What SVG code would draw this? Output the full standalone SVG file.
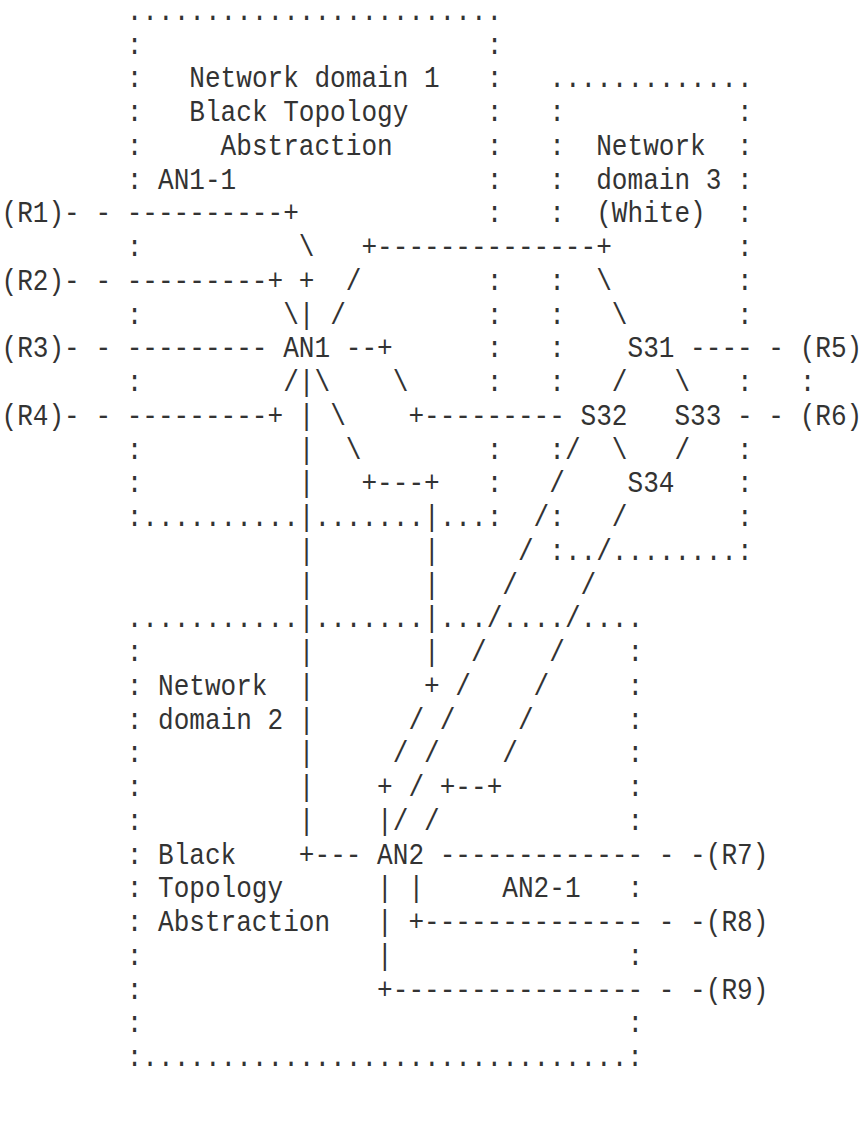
<svg xmlns="http://www.w3.org/2000/svg" width="862" height="1123" viewBox="0 0 862 1123" xml:space="preserve">
<style>
text { font-family: "Liberation Mono", "DejaVu Sans Mono", monospace; font-size: 29.17px; fill: #333333; white-space: pre; }
</style>
<rect x="0" y="0" width="862" height="1123" fill="#ffffff"/>
<g transform="translate(1.5 0) scale(0.8943 1)">
<g id="domain1">
<text x="140" y="20">........................</text>
<text x="140" y="53.75">:</text><text x="542.5" y="53.75">:</text>
<text x="140" y="87.5">:</text><text x="542.5" y="87.5">:</text>
<text x="140" y="121.25">:</text><text x="542.5" y="121.25">:</text>
<text x="140" y="155">:</text><text x="542.5" y="155">:</text>
<text x="140" y="188.75">:</text><text x="542.5" y="188.75">:</text>
<text x="542.5" y="222.5">:</text>
<text x="140" y="256.25">:</text>
<text x="542.5" y="290">:</text>
<text x="140" y="323.75">:</text><text x="542.5" y="323.75">:</text>
<text x="542.5" y="357.5">:</text>
<text x="140" y="391.25">:</text><text x="542.5" y="391.25">:</text>
<text x="140" y="458.75">:</text><text x="542.5" y="458.75">:</text>
<text x="140" y="492.5">:</text><text x="542.5" y="492.5">:</text>
<text x="140" y="526.25">:..........</text><text x="350" y="526.25">.......</text><text x="490" y="526.25">...:</text>
<text x="210" y="87.5">Network domain 1</text>
<text x="210" y="121.25">Black Topology</text>
<text x="245" y="155">Abstraction</text>
</g>
<g id="domain3">
<text x="612.5" y="87.5">.............</text>
<text x="612.5" y="121.25">:</text><text x="822.5" y="121.25">:</text>
<text x="612.5" y="155">:</text><text x="822.5" y="155">:</text>
<text x="612.5" y="188.75">:</text><text x="822.5" y="188.75">:</text>
<text x="612.5" y="222.5">:</text><text x="822.5" y="222.5">:</text>
<text x="822.5" y="256.25">:</text>
<text x="612.5" y="290">:</text><text x="822.5" y="290">:</text>
<text x="612.5" y="323.75">:</text><text x="822.5" y="323.75">:</text>
<text x="612.5" y="357.5">:</text>
<text x="612.5" y="391.25">:</text><text x="822.5" y="391.25">:</text>
<text x="612.5" y="458.75">:</text><text x="822.5" y="458.75">:</text>
<text x="822.5" y="492.5">:</text>
<text x="612.5" y="526.25">:</text><text x="822.5" y="526.25">:</text>
<text x="612.5" y="560">:..</text><text x="682.5" y="560">........:</text>
<text x="665" y="155">Network</text>
<text x="665" y="188.75">domain 3</text>
<text x="665" y="222.5">(White)</text>
</g>
<g id="domain2">
<text x="140" y="627.5">...........</text><text x="350" y="627.5">.......</text><text x="490" y="627.5">...</text><text x="560" y="627.5">....</text><text x="647.5" y="627.5">....</text>
<text x="140" y="661.25">:</text><text x="700" y="661.25">:</text>
<text x="140" y="695">:</text><text x="700" y="695">:</text>
<text x="140" y="728.75">:</text><text x="700" y="728.75">:</text>
<text x="140" y="762.5">:</text><text x="700" y="762.5">:</text>
<text x="140" y="796.25">:</text><text x="700" y="796.25">:</text>
<text x="140" y="830">:</text><text x="700" y="830">:</text>
<text x="140" y="863.75">:</text>
<text x="140" y="897.5">:</text><text x="700" y="897.5">:</text>
<text x="140" y="931.25">:</text>
<text x="140" y="965">:</text><text x="700" y="965">:</text>
<text x="140" y="998.75">:</text>
<text x="140" y="1032.5">:</text><text x="700" y="1032.5">:</text>
<text x="140" y="1066.25">:...............................:</text>
<text x="175" y="695">Network</text>
<text x="175" y="728.75">domain 2</text>
<text x="175" y="863.75">Black</text>
<text x="175" y="897.5">Topology</text>
<text x="175" y="931.25">Abstraction</text>
</g>
<g id="AN1-1"><text x="175" y="188.75">AN1-1</text></g>
<g id="AN1"><text x="315" y="357.5">AN1</text></g>
<g id="AN2"><text x="420" y="863.75">AN2</text></g>
<g id="AN2-1"><text x="560" y="897.5">AN2-1</text></g>
<g id="S31"><text x="700" y="357.5">S31</text></g>
<g id="S32"><text x="647.5" y="425">S32</text></g>
<g id="S33"><text x="752.5" y="425">S33</text></g>
<g id="S34"><text x="700" y="492.5">S34</text></g>
<g id="R1"><text x="0" y="222.5">(R1)</text></g>
<g id="R2"><text x="0" y="290">(R2)</text></g>
<g id="R3"><text x="0" y="357.5">(R3)</text></g>
<g id="R4"><text x="0" y="425">(R4)</text></g>
<g id="R5"><text x="892.5" y="357.5">(R5)</text></g>
<g id="R6"><text x="892.5" y="425">(R6)</text></g>
<g id="R7"><text x="787.5" y="863.75">(R7)</text></g>
<g id="R8"><text x="787.5" y="931.25">(R8)</text></g>
<g id="R9"><text x="787.5" y="998.75">(R9)</text></g>
<g id="connectors">
<text x="70" y="222.5">- - ----------+</text>
<text x="332.5" y="256.25">\</text><text x="402.5" y="256.25">+--------------+</text>
<text x="70" y="290">- - ---------+</text><text x="332.5" y="290">+</text><text x="385" y="290">/</text><text x="665" y="290">\</text>
<text x="315" y="323.75">\|</text><text x="367.5" y="323.75">/</text><text x="682.5" y="323.75">\</text>
<text x="70" y="357.5">- - ---------</text><text x="385" y="357.5">--+</text><text x="770" y="357.5">---- -</text>
<text x="315" y="391.25">/|\</text><text x="437.5" y="391.25">\</text><text x="682.5" y="391.25">/</text><text x="752.5" y="391.25">\</text><text x="892.5" y="391.25">:</text>
<text x="70" y="425">- - ---------+</text><text x="332.5" y="425">|</text><text x="367.5" y="425">\</text><text x="455" y="425">+---------</text><text x="822.5" y="425">- -</text>
<text x="332.5" y="458.75">|</text><text x="385" y="458.75">\</text><text x="630" y="458.75">/</text><text x="682.5" y="458.75">\</text><text x="752.5" y="458.75">/</text>
<text x="332.5" y="492.5">|</text><text x="402.5" y="492.5">+---+</text><text x="612.5" y="492.5">/</text>
<text x="332.5" y="526.25">|</text><text x="472.5" y="526.25">|</text><text x="595" y="526.25">/</text><text x="682.5" y="526.25">/</text>
<text x="332.5" y="560">|</text><text x="472.5" y="560">|</text><text x="577.5" y="560">/</text><text x="665" y="560">/</text>
<text x="332.5" y="593.75">|</text><text x="472.5" y="593.75">|</text><text x="560" y="593.75">/</text><text x="647.5" y="593.75">/</text>
<text x="332.5" y="627.5">|</text><text x="472.5" y="627.5">|</text><text x="542.5" y="627.5">/</text><text x="630" y="627.5">/</text>
<text x="332.5" y="661.25">|</text><text x="472.5" y="661.25">|</text><text x="525" y="661.25">/</text><text x="612.5" y="661.25">/</text>
<text x="332.5" y="695">|</text><text x="472.5" y="695">+</text><text x="507.5" y="695">/</text><text x="595" y="695">/</text>
<text x="332.5" y="728.75">|</text><text x="455" y="728.75">/</text><text x="490" y="728.75">/</text><text x="577.5" y="728.75">/</text>
<text x="332.5" y="762.5">|</text><text x="437.5" y="762.5">/</text><text x="472.5" y="762.5">/</text><text x="560" y="762.5">/</text>
<text x="332.5" y="796.25">|</text><text x="420" y="796.25">+</text><text x="455" y="796.25">/</text><text x="490" y="796.25">+--+</text>
<text x="332.5" y="830">|</text><text x="420" y="830">|/</text><text x="472.5" y="830">/</text>
<text x="332.5" y="863.75">+---</text><text x="490" y="863.75">------------- - -</text>
<text x="420" y="897.5">|</text><text x="455" y="897.5">|</text>
<text x="420" y="931.25">|</text><text x="455" y="931.25">+-------------- - -</text>
<text x="420" y="965">|</text>
<text x="420" y="998.75">+---------------- - -</text>
</g>
</g>
</svg>
